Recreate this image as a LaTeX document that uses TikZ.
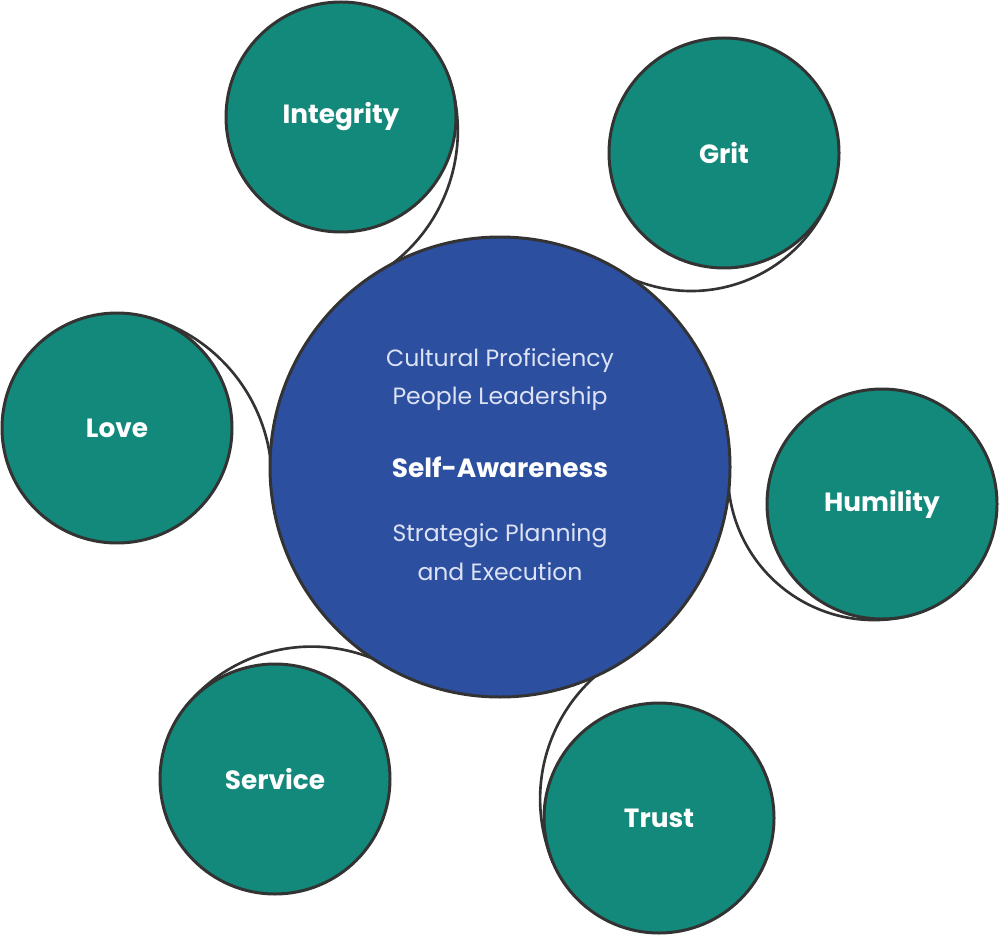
\documentclass[tikz,border=0pt]{standalone}
\usepackage{fontspec}
\setmainfont{Poppins}
\usetikzlibrary{positioning, backgrounds}
\definecolor{corefill}{RGB}{44,79,160}
\definecolor{traitfill}{RGB}{18,137,122}
\definecolor{rim}{RGB}{51,51,51}
\definecolor{skilltext}{RGB}{221,226,245}

\begin{document}
\begin{tikzpicture}[
  core/.style={circle, draw=rim, fill=corefill, line width=0.85pt, minimum size=4.6cm, inner sep=0pt, outer sep=0pt},
  trait/.style={circle, draw=rim, fill=traitfill, line width=0.85pt, minimum size=2.3cm, inner sep=0pt, outer sep=0pt, text=white, font=\bfseries\fontsize{7.5}{9}\selectfont},
  skill/.style={text=skilltext, font=\fontsize{6.7}{11}\selectfont, align=center, inner sep=0pt},
  title/.style={text=white, font=\bfseries\fontsize{7.5}{9}\selectfont, inner sep=0pt},
  link/.style={draw=rim, line width=0.75pt}
]
\useasboundingbox (0,0) rectangle (10,9.35);

% --- Kernkreis in der Mitte ---
\node[core] (core) at (5.00,4.68) {};
\node[title] (self) at (core.center) {Self-Awareness};
\node[skill] (upper) at (5.00,5.555) {Cultural Proficiency\\People Leadership};
\node[skill] (lower) at (5.00,3.83) {Strategic Planning\\and Execution};

% --- Werte rundherum ---
\node[trait] (integrity) at (3.41,8.18) {Integrity};
\node[trait] (grit)      at (7.24,7.82) {Grit};
\node[trait] (love)      at (1.17,5.07) {Love};
\node[trait] (humility)  at (8.82,4.31) {Humility};
\node[trait] (service)   at (2.75,1.56) {Service};
\node[trait] (trust)     at (6.59,1.17) {Trust};

% Verbindungsboegen (hinter den Kreisen)
\begin{scope}[on background layer]
\draw[link] (integrity.15) arc[start angle=15, end angle=-58, radius=1.68cm];
\draw[link] (grit.-20) arc[start angle=-20, end angle=-120.4, radius=1.50cm];
\draw[link] (love.74) arc[start angle=74, end angle=2, radius=1.70cm];
\draw[link] (humility.285) arc[start angle=285, end angle=178.9, radius=1.46cm];
\draw[link] (service.141) arc[start angle=141, end angle=61.1, radius=1.62cm];
\draw[link] (trust.203) arc[start angle=203, end angle=121.6, radius=1.64cm];
\end{scope}
\end{tikzpicture}
\end{document}
